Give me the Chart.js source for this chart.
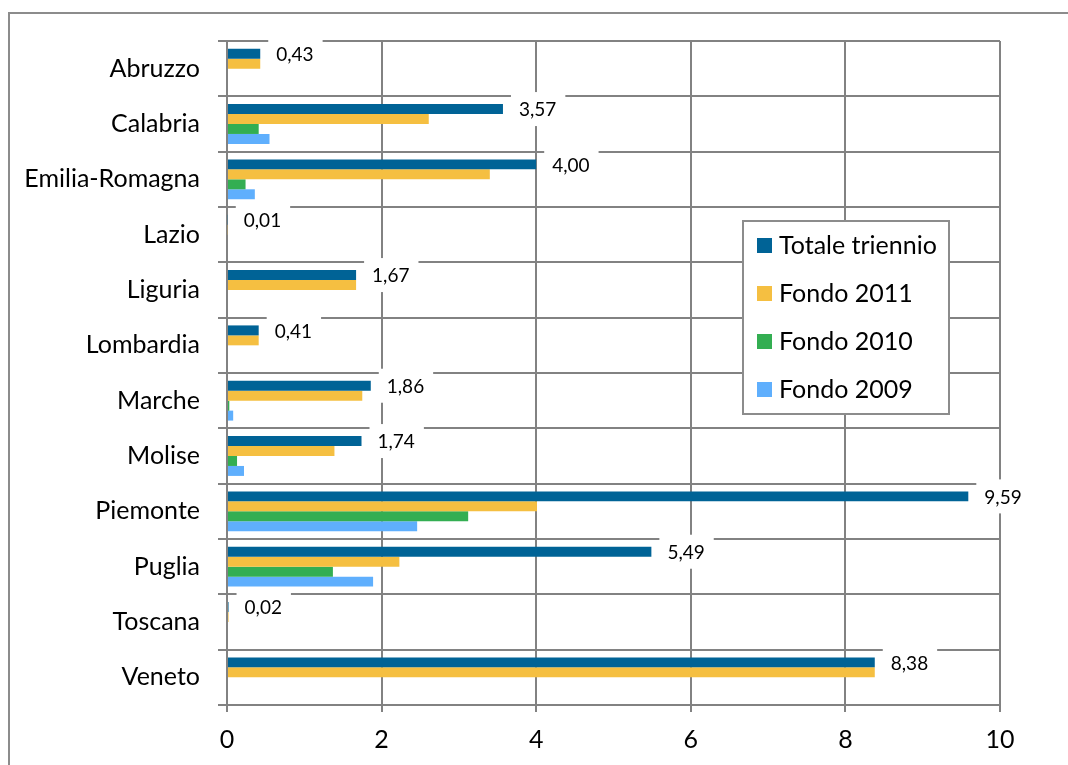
<!DOCTYPE html>
<html>
<head>
<meta charset="utf-8">
<script src="https://cdn.jsdelivr.net/npm/chart.js@4.4.0/dist/chart.umd.min.js"></script>
<style>
  html,body{margin:0;padding:0;background:#fff;}
  #wrap{width:1068px;height:765px;position:relative;}
</style>
</head>
<body>
<div id="wrap"><canvas id="chart" width="1068" height="765"></canvas></div>
<script>
// regioni e importi (milioni) per fondo annuale e totale del triennio
const regioni=["Abruzzo","Calabria","Emilia-Romagna","Lazio","Liguria","Lombardia","Marche","Molise","Piemonte","Puglia","Toscana","Veneto"];
const totaleTriennio=[0.43,3.57,4.00,0.01,1.67,0.41,1.86,1.74,9.59,5.49,0.02,8.38];
const fondo2011=[0.43,2.61,3.40,0.01,1.67,0.41,1.75,1.39,4.01,2.23,0.02,8.38];
const fondo2010=[0,0.41,0.24,0,0,0,0.03,0.13,3.12,1.37,0,0];
const fondo2009=[0,0.55,0.36,0,0,0,0.08,0.22,2.46,1.89,0,0];
const xTicks=[0,2,4,6,8,10];

const FONT="Lato, 'Open Sans', sans-serif";
const GRID="#828282";

// cornice esterna del grafico
const frame={
  id:'frame',
  beforeDraw(chart){
    const c=chart.ctx;
    c.save();
    c.fillStyle='#fff';
    c.fillRect(0,0,chart.width,chart.height);
    c.strokeStyle='#8c8c8c';
    c.lineWidth=2;
    c.beginPath();
    c.moveTo(9,chart.height+5);
    c.lineTo(9,13);
    c.lineTo(chart.width+5,13);
    c.stroke();
    c.restore();
  }
};

// etichette del totale con riquadro bianco
const valueLabels={
  id:'valueLabels',
  afterDatasetsDraw(chart){
    const c=chart.ctx;
    const meta=chart.getDatasetMeta(0);
    c.save();
    c.font="19px "+FONT;
    c.textBaseline='middle';
    meta.data.forEach((bar,i)=>{
      const txt=totaleTriennio[i].toFixed(2).replace('.',',');
      const w=c.measureText(txt).width;
      const x0=bar.x+8;
      c.fillStyle='#fff';
      c.fillRect(x0,bar.y-17,w+17,34);
      c.fillStyle='#000';
      c.fillText(txt,x0+8,bar.y+1);
    });
    c.restore();
  }
};

// legenda dentro l'area del grafico
const boxLegend={
  id:'boxLegend',
  afterDraw(chart){
    const c=chart.ctx;
    const x=743,y=221,w=206,h=193;
    c.save();
    c.fillStyle='#fff';
    c.fillRect(x,y,w,h);
    c.strokeStyle='#8c8c8c';
    c.lineWidth=2;
    c.strokeRect(x,y,w,h);
    c.font="25px "+FONT;
    c.textBaseline='middle';
    chart.data.datasets.forEach((ds,i)=>{
      const cy=y+24+i*48;
      c.fillStyle=ds.backgroundColor;
      c.fillRect(x+14,cy-7,15,15);
      c.fillStyle='#000';
      c.fillText(ds.label,x+36,cy+1);
    });
    c.restore();
  }
};

new Chart(document.getElementById('chart'),{
  type:'bar',
  data:{
    labels:regioni,
    datasets:[
      {label:'Totale triennio',data:totaleTriennio,backgroundColor:'#006396'},
      {label:'Fondo 2011',data:fondo2011,backgroundColor:'#f5bf41'},
      {label:'Fondo 2010',data:fondo2010,backgroundColor:'#33ae52'},
      {label:'Fondo 2009',data:fondo2009,backgroundColor:'#5faffd'}
    ]
  },
  options:{
    indexAxis:'y',
    responsive:false,
    animation:false,
    layout:{padding:{top:41,right:68,left:0,bottom:0}},
    datasets:{bar:{barPercentage:1,categoryPercentage:0.72}},
    plugins:{legend:{display:false},tooltip:{enabled:false}},
    scales:{
      x:{
        min:0,max:10,
        afterBuildTicks(scale){scale.ticks=xTicks.map(v=>({value:v}));},
        ticks:{color:'#000',font:{family:FONT,size:25},padding:13},
        grid:{color:GRID,lineWidth:2,tickLength:7},
        border:{color:GRID,width:2},
        afterFit(scale){scale.height=60;}
      },
      y:{
        ticks:{color:'#000',font:{family:FONT,size:25},padding:18},
        grid:{color:GRID,lineWidth:2,tickLength:9,offset:true},
        border:{color:GRID,width:2},
        afterFit(scale){scale.width=227;}
      }
    }
  },
  plugins:[frame,valueLabels,boxLegend]
});
</script>
</body>
</html>
